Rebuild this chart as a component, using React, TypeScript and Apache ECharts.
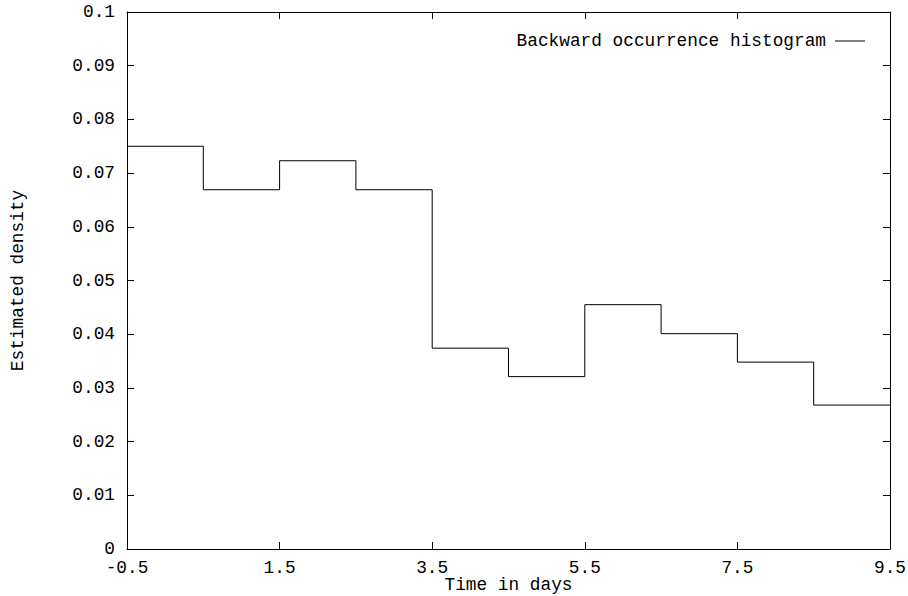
import React, { useEffect, useRef } from "react";
import * as echarts from "echarts";

const binStarts = [-0.5, 0.5, 1.5, 2.5, 3.5, 4.5, 5.5, 6.5, 7.5, 8.5];
const binWidth = 1;
const densities = [0.075, 0.0669, 0.0723, 0.0669, 0.0374, 0.0321, 0.0455, 0.0401, 0.0348, 0.0268];
const seriesName = "Backward occurrence histogram";

const FONT = "Liberation Mono";
const FS = 17.8;

export default function App() {
  const ref = useRef<HTMLDivElement>(null);
  useEffect(() => {
    if (!ref.current) return;
    const chart = echarts.init(ref.current, undefined, { renderer: "svg" });
    const data: number[][] = binStarts.map((x, i) => [x, densities[i]]);
    data.push([binStarts[binStarts.length - 1] + binWidth, densities[densities.length - 1]]);
    const axisLine = { show: true, onZero: false, lineStyle: { color: "#000", width: 1 } };
    const tick = { show: true, inside: true, length: 7, lineStyle: { color: "#000", width: 1 } };
    const label = { color: "#000", fontFamily: FONT, fontSize: FS };
    chart.setOption({
      animation: false,
      backgroundColor: "#fff",
      grid: { left: 127, right: 18, top: 12, bottom: 47, containLabel: false, outerBoundsMode: "none" },
      legend: {
        right: 38,
        top: 27,
        align: "right",
        icon: "rect",
        itemWidth: 30,
        itemHeight: 1,
        itemStyle: { color: "#000" },
        textStyle: { ...label, padding: [0, 4, 0, 0] },
        data: [{ name: seriesName }],
      },
      xAxis: [
        {
          type: "value",
          min: -0.5,
          max: 9.5,
          interval: 2,
          axisLine,
          axisTick: tick,
          splitLine: { show: false },
          axisLabel: { ...label, margin: 10 },
          name: "Time in days",
          nameLocation: "middle",
          nameGap: 27,
          nameMoveOverlap: false,
          nameTextStyle: { ...label, lineHeight: 18 },
        },
        {
          type: "value",
          position: "top",
          min: -0.5,
          max: 9.5,
          interval: 2,
          axisLine,
          axisTick: tick,
          splitLine: { show: false },
          axisLabel: { show: false },
        },
      ],
      yAxis: [
        {
          type: "value",
          min: 0,
          max: 0.1,
          interval: 0.01,
          axisLine,
          axisTick: tick,
          splitLine: { show: false },
          axisLabel: { ...label, margin: 12 },
          name: "Estimated density",
          nameLocation: "middle",
          nameGap: 100,
          nameRotate: 90,
          nameMoveOverlap: false,
          nameTextStyle: label,
        },
        {
          type: "value",
          position: "right",
          min: 0,
          max: 0.1,
          interval: 0.01,
          axisLine,
          axisTick: tick,
          splitLine: { show: false },
          axisLabel: { show: false },
        },
      ],
      series: [
        {
          name: seriesName,
          type: "line",
          step: "end",
          symbol: "none",
          data,
          lineStyle: { color: "#000", width: 1 },
          itemStyle: { color: "#000" },
        },
      ],
    });
    return () => chart.dispose();
  }, []);
  return (
    <div
      ref={ref}
      style={{ position: "fixed", left: 0, top: 0, width: 908, height: 596 }}
    />
  );
}
